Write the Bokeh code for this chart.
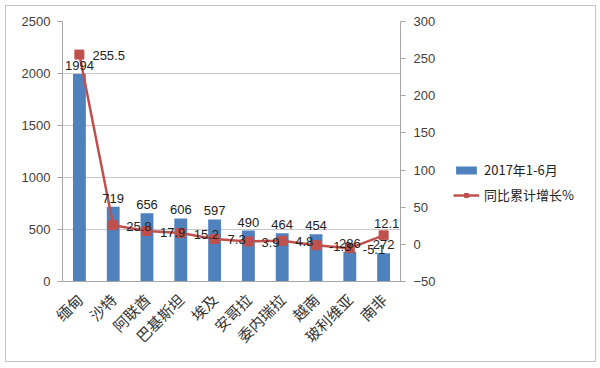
from math import pi
from bokeh.plotting import figure
from bokeh.layouts import row
from bokeh.models import (Range1d, LinearAxis, SingleIntervalTicker, Legend, LegendItem,
                          ColumnDataSource, FactorRange, CDSView, IndexFilter)
from bokeh.core.properties import value
from bokeh.embed import file_html
from bokeh.resources import INLINE

countries = ["缅甸", "沙特", "阿联酋", "巴基斯坦", "埃及", "安哥拉", "委内瑞拉", "越南", "玻利维亚", "南非"]
sales = [1994, 719, 656, 606, 597, 490, 464, 454, 286, 272]
growth = [255.5, 25.8, 17.9, 15.2, 7.3, 3.9, 4.8, -1.3, -5.1, 12.1]
sales_name = "2017年1-6月"
growth_name = "同比累计增长%"

src = ColumnDataSource(dict(
    c=countries, s=sales, g=growth,
    sl=[str(v) for v in sales], gl=[str(v) for v in growth],
))
n = len(countries)

NUM_FONT = "Liberation Sans"
CJK_FONT = "Noto Sans CJK SC"
BLUE = "#4F81BD"
RED = "#C0504D"
TXT = "#404040"

p = figure(width=435, height=355, x_range=FactorRange(*countries), y_range=Range1d(0, 2500),
           output_backend="svg", toolbar_location=None,
           min_border_left=56, min_border_right=41, min_border_top=15, min_border_bottom=80)
p.extra_y_ranges = {"r": Range1d(-50, 300)}
p.outline_line_color = None

bars = p.vbar(x="c", top="s", width=0.38, source=src, fill_color=BLUE, line_color=None)
line = p.line(x="c", y="g", source=src, y_range_name="r", line_color=RED, line_width=2.5)
marks = p.scatter(x="c", y="g", source=src, y_range_name="r", marker="square", size=9,
                  fill_color=RED, line_color=RED)

lab_style = dict(text_font=value(NUM_FONT), text_font_size="13px", text_color="#222222")
p.text(x="c", y="s", text="sl", source=src, text_align="center",
       text_baseline="bottom", y_offset=-4, **lab_style)
p.text(x="c", y="g", text="gl", source=src, y_range_name="r",
       view=CDSView(filter=IndexFilter(list(range(n - 1)))),
       text_align="left", text_baseline="middle", x_offset=13, y_offset=1, **lab_style)
# last growth label kept inside the frame
p.text(x="c", y="g", text="gl", source=src, y_range_name="r",
       view=CDSView(filter=IndexFilter([n - 1])),
       text_align="center", text_baseline="bottom", x_offset=3, y_offset=-7, **lab_style)

# left axis
ly = p.yaxis[0]
ly.ticker = SingleIntervalTicker(interval=500)
ly.major_label_text_font = NUM_FONT
ly.major_label_text_font_size = "13px"
ly.major_label_text_color = TXT
ly.axis_line_color = "#a6a6a6"
ly.major_tick_line_color = "#a6a6a6"
ly.major_tick_in = 0
ly.major_tick_out = 5
ly.major_label_standoff = 7
ly.minor_tick_line_color = None

# right axis
ry = LinearAxis(y_range_name="r", ticker=SingleIntervalTicker(interval=50))
ry.major_label_text_font = NUM_FONT
ry.major_label_text_font_size = "13px"
ry.major_label_text_color = TXT
ry.axis_line_color = "#a6a6a6"
ry.major_tick_line_color = "#a6a6a6"
ry.major_tick_in = 0
ry.major_tick_out = 5
ry.major_label_standoff = 8
ry.minor_tick_line_color = None
p.add_layout(ry, "right")

xa = p.xaxis[0]
xa.major_label_orientation = pi / 4
xa.major_label_text_font = CJK_FONT
xa.major_label_text_font_size = "15px"
xa.major_label_text_color = "#333333"
xa.major_label_standoff = 9
xa.axis_line_color = "#a6a6a6"
xa.major_tick_line_color = None

p.xgrid.grid_line_color = None
p.ygrid.grid_line_color = "#c8c8c8"
p.ygrid.ticker = SingleIntervalTicker(interval=500)

# legend panel (its glyphs use the chart data but fall outside this panel's ranges)
p2 = figure(width=154, height=355, x_range=Range1d(0, 1), y_range=Range1d(0, 1),
            x_axis_type=None, y_axis_type=None, output_backend="svg", toolbar_location=None,
            min_border=0)
p2.outline_line_color = None
p2.grid.grid_line_color = None
lb = p2.vbar(x="s", top="s", width=0.5, source=src, fill_color=BLUE, line_color=None)
ll = p2.line(x="s", y="g", source=src, line_color=RED, line_width=2.5)
lm = p2.scatter(x="s", y="g", source=src, marker="square", size=9, fill_color=RED, line_color=RED)
legend = Legend(items=[LegendItem(label=sales_name, renderers=[lb]),
                       LegendItem(label=growth_name, renderers=[ll, lm])],
                location=(12, 77), border_line_color=None, background_fill_alpha=0,
                label_text_font=CJK_FONT, label_text_font_size="13px", label_text_color="#222222",
                glyph_width=26, glyph_height=10, spacing=6, padding=4, margin=0)
p2.add_layout(legend)

layout = row(p, p2)
layout.styles = {"border": "1px solid #c4c4c4", "margin": "5px 0 0 5px"}

open("out.html", "w").write(file_html(layout, INLINE))
